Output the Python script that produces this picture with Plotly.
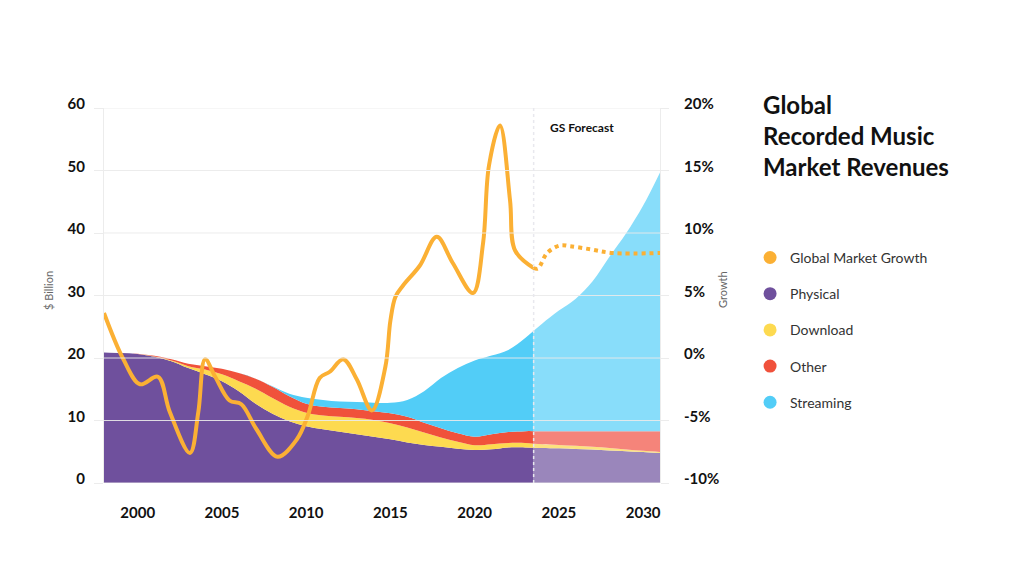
import numpy as np
import plotly.graph_objects as go

# ---------------- data ----------------
years = list(range(1998, 2032))

physical = [20.9, 20.8, 20.65, 20.2, 19.5, 18.4, 17.4, 16.3, 14.7, 12.7, 11.1, 9.9,
            9.1, 8.6, 8.2, 7.8, 7.4, 7.0, 6.5, 6.1, 5.8, 5.5, 5.3, 5.4, 5.7, 5.7,
            5.6, 5.55, 5.45, 5.35, 5.2, 5.1, 4.95, 4.8]
download = [0.0, 0.0, 0.0, 0.05, 0.1, 0.3, 0.75, 1.1, 1.6, 2.4, 2.5, 2.3,
            2.15, 2.2, 2.4, 2.6, 2.7, 2.55, 2.4, 2.0, 1.5, 1.1, 0.75, 0.8, 0.7, 0.7,
            0.6, 0.55, 0.5, 0.45, 0.4, 0.25, 0.2, 0.15]
other = [0.0, 0.0, 0.05, 0.1, 0.2, 0.4, 0.55, 0.9, 1.3, 1.6, 1.8, 1.7,
         1.45, 1.4, 1.4, 1.4, 1.4, 1.6, 1.7, 1.55, 1.45, 1.35, 1.35, 1.6, 1.75, 1.9,
         2.1, 2.2, 2.35, 2.5, 2.7, 2.95, 3.15, 3.35]
streaming = [0.0, 0.0, 0.0, 0.0, 0.0, 0.0, 0.0, 0.0, 0.0, 0.0, 0.1, 0.4,
             0.95, 1.1, 1.05, 1.15, 1.35, 1.7, 2.7, 5.05, 8.05, 10.45, 12.2, 12.6, 13.15, 14.9,
             17.2, 19.3, 21.2, 24.0, 27.9, 31.7, 36.1, 41.4]

FORECAST_START = 2023.5

growth_years_hist = [1998.0, 1999.15, 2000.14, 2001.2, 2001.9, 2003.1, 2003.6, 2004.0,
                     2004.6, 2005.45, 2006.15, 2007.05, 2008.3, 2009.45, 2010.1, 2010.8,
                     2011.4, 2012.2, 2013.0, 2013.9, 2014.7, 2015.0, 2015.3, 2015.75,
                     2016.75, 2017.75, 2018.7, 2019.9, 2020.5, 2020.85, 2021.5, 2022.1,
                     2022.4, 2023.5]
growth_hist = [3.6, -0.1, -2.1, -1.5, -4.3, -7.6, -4.3, -0.1,
               -1.5, -3.4, -3.7, -5.7, -7.9, -6.5, -4.6, -1.6,
               -1.1, -0.1, -1.7, -4.2, -0.7, 3.0, 4.9, 5.8,
               7.4, 9.7, 7.6, 5.2, 9.2, 15.4, 18.6, 12.6,
               8.6, 7.2]
growth_years_fc = [2023.5, 2023.75, 2024.3, 2025.05, 2025.65, 2026.85, 2028.2, 2031.0]
growth_fc = [7.2, 7.15, 8.4, 9.0, 8.95, 8.7, 8.4, 8.4]

left_ticks = [0, 10, 20, 30, 40, 50, 60]
right_tickvals = [-10, -5, 0, 5, 10, 15, 20]
right_ticktext = ["-10%", "-5%", "0%", "5%", "10%", "15%", "20%"]
x_ticks = [2000, 2005, 2010, 2015, 2020, 2025, 2030]

series = [
    ("Physical", physical, "#6F509D", "#9A86BB"),
    ("Download", download, "#FDDA50", "#FCE27F"),
    ("Other", other, "#F0513B", "#F5847A"),
    ("Streaming", streaming, "#52CDF7", "#88DDFA"),
]
GROWTH_COLOR = "#FBB034"
GRID = "rgba(234,234,234,0.9)"
FONT = "Lato, sans-serif"

fig = go.Figure()

yrs = np.array(years, dtype=float)
hist_mask = yrs < FORECAST_START
for name, vals, c_hist, c_fc in series:
    v = np.array(vals, dtype=float)
    edge = float(np.interp(FORECAST_START, yrs, v))
    xh = list(yrs[hist_mask]) + [FORECAST_START]
    yh = list(v[hist_mask]) + [edge]
    xf = [FORECAST_START] + list(yrs[~hist_mask])
    yf = [edge] + list(v[~hist_mask])
    fig.add_trace(go.Scatter(x=xh, y=yh, stackgroup="hist", mode="lines",
                             line=dict(width=0, shape="spline", color=c_hist),
                             fillcolor=c_hist, showlegend=False, hoverinfo="skip"))
    fig.add_trace(go.Scatter(x=xf, y=yf, stackgroup="fc", mode="lines",
                             line=dict(width=0, shape="spline", color=c_fc),
                             fillcolor=c_fc, showlegend=False, hoverinfo="skip"))

fig.add_trace(go.Scatter(x=growth_years_hist, y=growth_hist, yaxis="y2", mode="lines",
                         line=dict(color=GROWTH_COLOR, width=4, shape="spline", smoothing=1),
                         showlegend=False, hoverinfo="skip"))
fig.add_trace(go.Scatter(x=growth_years_fc, y=growth_fc, yaxis="y2", mode="lines",
                         line=dict(color=GROWTH_COLOR, width=4, shape="spline", dash="4px,4px"),
                         showlegend=False, hoverinfo="skip"))

# legend proxies
legend_items = [("Global Market Growth", GROWTH_COLOR)] + [(s[0], s[2]) for s in series]
for name, color in legend_items:
    fig.add_trace(go.Scatter(x=[None], y=[None], mode="markers", name=name, legendgroup=name,
                             marker=dict(size=13, color=color, symbol="circle")))

# gridlines above fills
for v in left_ticks:
    fig.add_shape(type="line", xref="paper", x0=0, x1=1, yref="y", y0=v, y1=v,
                  line=dict(color=GRID, width=1), layer="above")
fig.add_shape(type="line", xref="x", x0=FORECAST_START, x1=FORECAST_START, yref="paper",
              y0=0, y1=1, line=dict(color="rgba(232,232,238,1)", width=1.5, dash="dot"),
              layer="above")

tick_font = dict(family=FONT, size=15, color="#111", weight=700)
fig.update_layout(
    width=1024, height=576,
    paper_bgcolor="white", plot_bgcolor="white",
    margin=dict(l=96, r=372, t=100, b=101),
    font=dict(family=FONT, color="#111"),
    xaxis=dict(range=[1998, 2031], tickvals=x_ticks, showgrid=False, zeroline=False,
               showline=False, ticks="outside", ticklen=16, tickcolor="rgba(0,0,0,0)",
               tickfont=tick_font),
    yaxis=dict(range=[0, 60], tickvals=left_ticks, showgrid=False, zeroline=False,
               showline=True, linecolor=GRID, linewidth=1,
               ticks="outside", ticklen=9, tickcolor=GRID, ticklabelshift=-4,
               ticklabelstandoff=6, tickfont=tick_font),
    yaxis2=dict(range=[-10, 20], tickvals=right_tickvals, ticktext=right_ticktext,
                overlaying="y", side="right", showgrid=False, zeroline=False,
                showline=True, linecolor=GRID, linewidth=1,
                ticks="outside", ticklen=8, tickcolor=GRID, ticklabelshift=-4,
                ticklabelstandoff=12, tickfont=tick_font),
    legend=dict(x=1.162, xanchor="left", y=0.643, yanchor="top",
                font=dict(family=FONT, size=14, color="#333"),
                tracegroupgap=15, bgcolor="rgba(0,0,0,0)", itemclick=False),
    showlegend=True,
)

fig.add_annotation(xref="paper", yref="paper", x=1.182, y=1.053, xanchor="left", yanchor="top",
                   align="left", showarrow=False,
                   text="Global<br>Recorded Music<br>Market Revenues",
                   font=dict(family=FONT, size=24, color="#111", weight=700))
fig.add_annotation(xref="x", yref="paper", x=FORECAST_START + 0.85, y=0.947,
                   xanchor="left", yanchor="middle", showarrow=False, text="GS Forecast",
                   font=dict(family=FONT, size=12, color="#111", weight=700))
fig.add_annotation(xref="paper", yref="paper", x=(48 - 104) / 556, y=(483 - 291) / 375,
                   xanchor="center", yanchor="middle", showarrow=False, textangle=-90,
                   text="$ Billion", font=dict(family=FONT, size=11, color="#666"))
fig.add_annotation(xref="paper", yref="paper", x=(722 - 104) / 556, y=(483 - 290) / 375,
                   xanchor="center", yanchor="middle", showarrow=False, textangle=-90,
                   text="Growth", font=dict(family=FONT, size=11, color="#666"))

fig.write_html("out.html")
